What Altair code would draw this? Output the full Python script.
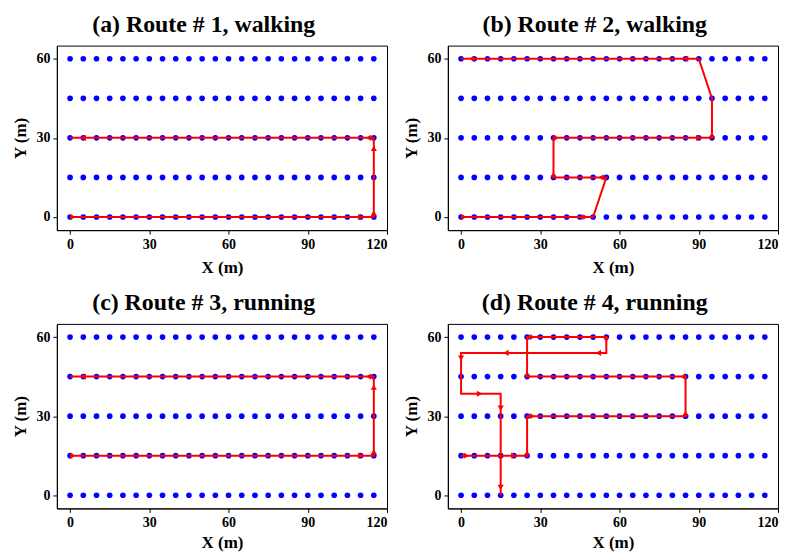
import altair as alt
import pandas as pd

# grid of reference points (m)
grid_x = [0, 5, 10, 15, 20, 25, 30, 35, 40, 45, 50, 55, 60, 65, 70, 75, 80, 85, 90, 95, 100, 105, 110, 115]
grid_y = [0, 15, 30, 45, 60]

titles = ["(a) Route # 1, walking", "(b) Route # 2, walking",
          "(c) Route # 3, running", "(d) Route # 4, running"]

# routes (vertices, in order)
r1_x = [0, 115, 115, 0]
r1_y = [0, 0, 30, 30]
r2_x = [0, 50, 55, 35, 35, 95, 95, 90, 0]
r2_y = [0, 0, 15, 15, 30, 30, 45, 60, 60]
r3_x = [0, 115, 115, 0]
r3_y = [15, 15, 45, 45]
r4_x = [0, 25, 25, 85, 85, 25, 25, 55, 55, 0, 0, 15, 15]
r4_y = [15, 15, 30, 30, 45, 45, 60, 60, 54, 54, 38.5, 38.5, 0]

# arrow heads along the routes
a1_x = [1, 110, 115, 115, 113, 5]
a1_y = [0, 0, 1.5, 26, 30, 30]
a1_d = ["right", "right", "up", "up", "left", "left"]
a2_x = [1, 47, 53, 35, 36, 90, 95, 85, 4]
a2_y = [0, 0, 15, 16, 30, 30, 31, 60, 60]
a2_d = ["right", "right", "left", "up", "right", "right", "up", "left", "left"]
a3_x = [1, 110, 115, 115, 113, 5]
a3_y = [15, 15, 16.5, 41, 45, 45]
a3_d = ["right", "right", "up", "up", "left", "left"]
a4_x = [2, 20, 25, 27, 85, 84, 25, 27, 55, 52, 17, 0, 7, 15, 15]
a4_y = [15, 15, 16, 30, 31, 45, 46, 60, 59, 54, 54, 52, 38.5, 33, 3]
a4_d = ["right", "right", "up", "right", "up", "left", "up", "right", "down",
        "left", "left", "down", "right", "down", "down"]

x_ticks = [0, 30, 60, 90, 120]
y_ticks = [0, 30, 60]

FONT = "Liberation Serif"

grid_df = pd.DataFrame([(x, y) for y in grid_y for x in grid_x], columns=["x", "y"])


def panel(title, rx, ry, ax, ay, ad, xpad):
    route_df = pd.DataFrame({"x": rx, "y": ry, "i": list(range(len(rx)))})
    arrow_df = pd.DataFrame({"x": ax, "y": ay, "s": ["triangle-" + d for d in ad]})
    xenc = alt.X("x:Q", scale=alt.Scale(domain=[-5, 120], nice=False, zero=False),
                 axis=alt.Axis(values=x_ticks, title="X (m)", titlePadding=xpad))
    yenc = alt.Y("y:Q", scale=alt.Scale(domain=[-5, 65], nice=False, zero=False),
                 axis=alt.Axis(values=y_ticks, title="Y (m)", titlePadding=6))
    pts = alt.Chart(grid_df).mark_circle(size=32, color="#0000ff", opacity=1).encode(x=xenc, y=yenc)
    line = alt.Chart(route_df).mark_line(color="#ff0000", strokeWidth=2).encode(
        x=xenc, y=yenc, order="i:Q")
    arr = alt.Chart(arrow_df).mark_point(filled=True, color="#ff0000", size=38, opacity=1).encode(
        x=xenc, y=yenc, shape=alt.Shape("s:N", scale=None))
    return alt.layer(pts, line, arr).properties(
        width=331, height=185,
        title=alt.TitleParams(title, font=FONT, fontSize=23.9, fontWeight="bold",
                              anchor="middle", frame="bounds", color="black",
                              offset=9, dx=4),
    )


pa = panel(titles[0], r1_x, r1_y, a1_x, a1_y, a1_d, 8)
pb = panel(titles[1], r2_x, r2_y, a2_x, a2_y, a2_d, 8)
pc = panel(titles[2], r3_x, r3_y, a3_x, a3_y, a3_d, 5)
pd_ = panel(titles[3], r4_x, r4_y, a4_x, a4_y, a4_d, 5)

chart = alt.vconcat(
    alt.hconcat(pa, pb, spacing=14),
    alt.hconcat(pc, pd_, spacing=14),
    spacing=14,
).properties(
    padding={"left": 3, "top": 3, "right": 0, "bottom": 0},
).configure_view(
    stroke="black", strokeWidth=1
).configure_axis(
    grid=False, domainColor="black", tickColor="black", tickSize=4,
    labelFont=FONT, labelFontSize=14, labelFontWeight="bold", labelColor="black",
    titleFont=FONT, titleFontSize=17, titleFontWeight="bold", titleColor="black",
    labelPadding=3,
).configure_concat(spacing=14)

chart.save("out.html", embed_options={"renderer": "svg", "actions": False})
